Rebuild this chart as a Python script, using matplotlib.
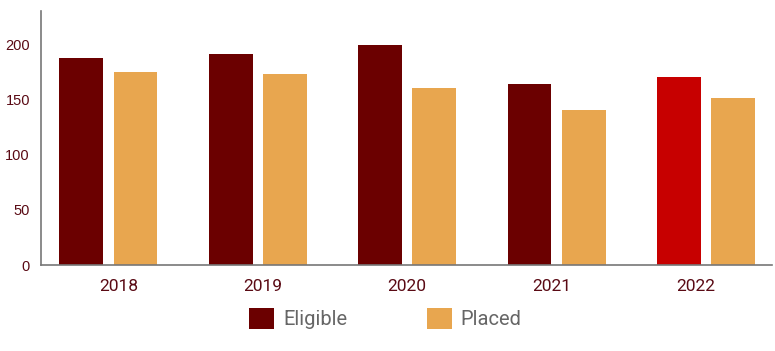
import numpy as np
import matplotlib.pyplot as plt
from matplotlib.patches import Patch

# 数据
years = ['2018', '2019', '2020', '2021', '2022']
eligible = [187, 191, 199, 164, 170]
placed = [175, 173, 160, 140, 151]

dark_red = '#6b0000'
bright_red = '#c70000'
gold = '#e8a64f'
label_col = '#5a0a14'
narrow = ['Liberation Sans Narrow', 'Roboto', 'DejaVu Sans']

plt.rcParams['font.family'] = ['Liberation Sans', 'DejaVu Sans']

fig = plt.figure(figsize=(7.75, 3.51), dpi=100)
ax = fig.add_axes([0.053, 0.245, 0.943, 0.724])

x = np.arange(len(years))
w = 0.294
bar_cols = [dark_red] * (len(years) - 1) + [bright_red]
ax.bar(x - 0.182, eligible, width=w, color=bar_cols)
ax.bar(x + 0.182, placed, width=w, color=gold)

ax.set_xlim(-0.45, 4.44)
ax.set_ylim(0, 230)
ax.set_yticks([0, 50, 100, 150, 200])
# 标签位置和柱子中心略有偏差
ax.set_xticks(np.linspace(0.067, 3.93, len(years)))
ax.set_xticklabels(years, family=narrow, fontsize=12.5)
ax.tick_params(axis='both', length=0, labelcolor=label_col)
ax.tick_params(axis='y', labelsize=10.5, pad=8)
ax.tick_params(axis='x', pad=10)

for s in ['top', 'right']:
    ax.spines[s].set_visible(False)
for s in ['left', 'bottom']:
    ax.spines[s].set_color('#777777')
    ax.spines[s].set_linewidth(1.2)

handles = [Patch(facecolor=dark_red, label='Eligible'),
           Patch(facecolor=gold, label='Placed')]
fig.legend(handles=handles, loc='center', bbox_to_anchor=(0.497, 0.092), ncol=2,
           frameon=False, handlelength=1.25, handleheight=1.25, handletextpad=0.45,
           columnspacing=3.95, prop={'family': narrow, 'size': 14.5},
           labelcolor='#666666')

fig.savefig('out.png', dpi=100)
